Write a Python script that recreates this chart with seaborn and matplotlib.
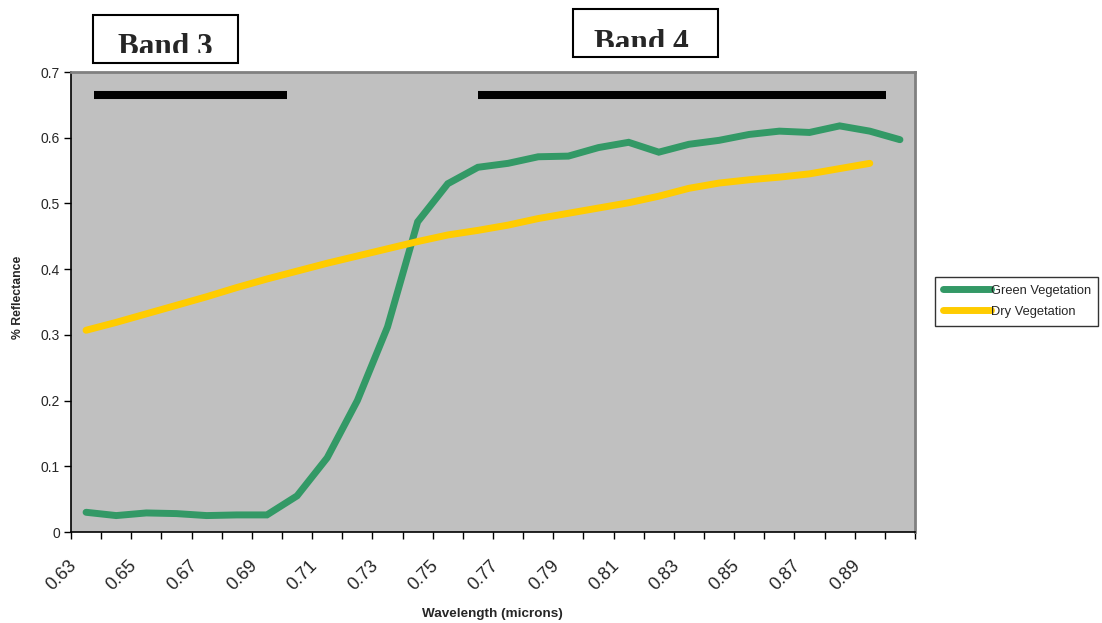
import numpy as np
import pandas as pd
import matplotlib
matplotlib.use("Agg")
import matplotlib.pyplot as plt
import matplotlib.patches as mpatches
import matplotlib.transforms as mtransforms
import seaborn as sns

# wavelength categories (microns)
wavelengths = [0.63, 0.64, 0.65, 0.66, 0.67, 0.68, 0.69, 0.70, 0.71, 0.72,
               0.73, 0.74, 0.75, 0.76, 0.77, 0.78, 0.79, 0.80, 0.81, 0.82,
               0.83, 0.84, 0.85, 0.86, 0.87, 0.88, 0.89, 0.90]

green_veg = [0.030, 0.025, 0.029, 0.028, 0.025, 0.026, 0.026, 0.055, 0.113, 0.200,
             0.312, 0.472, 0.530, 0.555, 0.561, 0.571, 0.572, 0.585, 0.593, 0.578,
             0.590, 0.596, 0.605, 0.610, 0.608, 0.618, 0.610, 0.597]

dry_veg = [0.307, 0.319, 0.332, 0.345, 0.358, 0.372, 0.385, 0.397, 0.409, 0.420,
           0.431, 0.442, 0.452, 0.459, 0.467, 0.477, 0.485, 0.493, 0.501, 0.511,
           0.523, 0.531, 0.536, 0.540, 0.545, 0.553, 0.561, np.nan]

series_names = ["Green Vegetation", "Dry Vegetation"]
series_colors = ["#339966", "#FFCC00"]

# band spans drawn as black bars above the curves (in wavelength units)
band_labels = ["Band 3", "Band 4"]
band_spans = [(0.6327, 0.6966), (0.7600, 0.8955)]
band_bar_level = 0.665

y_ticks = [0, 0.1, 0.2, 0.3, 0.4, 0.5, 0.6, 0.7]
y_tick_labels = ["0", "0.1", "0.2", "0.3", "0.4", "0.5", "0.6", "0.7"]

sns.set_style("white")
plt.rcParams['font.family'] = ['Liberation Sans', 'DejaVu Sans']


def wl_to_pos(w):
    return (w - wavelengths[0]) / 0.01


idx = np.arange(len(wavelengths))
df = pd.DataFrame({
    "pos": np.concatenate([idx, idx]),
    "value": np.concatenate([green_veg, dry_veg]),
    "series": [series_names[0]] * len(idx) + [series_names[1]] * len(idx),
}).dropna()

W, H = 1102, 623
fig = plt.figure(figsize=(W / 100, H / 100), dpi=100)
ax = fig.add_axes([71 / W, 1 - 532 / H, (915 - 71) / W, (532 - 72) / H])
ax.set_facecolor("#C0C0C0")

sns.lineplot(data=df, x="pos", y="value", hue="series", palette=series_colors,
             hue_order=series_names, linewidth=5, ax=ax, legend=False,
             solid_capstyle="round", solid_joinstyle="miter")

# band bars
for (w0, w1) in band_spans:
    ax.hlines(band_bar_level, wl_to_pos(w0), wl_to_pos(w1), color="black",
              linewidth=5.8)

ax.set_xlim(-0.5, len(wavelengths) - 0.5)
ax.set_ylim(0, 0.7)

# x axis: tick marks at category boundaries, labels at every other category
ax.set_xticks(np.arange(-0.5, len(wavelengths)))
ax.set_xticklabels([])
ax.set_xticks(idx[::2], minor=True)
ax.set_xticklabels([f"{w:.2f}" for w in wavelengths[::2]], minor=True,
                   rotation=45, ha="right", va="center", rotation_mode="anchor",
                   fontsize=13)
ax.tick_params(axis="x", which="minor", length=0, pad=16)
ax.tick_params(axis="x", which="major", length=5, width=1, color="black",
               direction="out", bottom=True)
shift = mtransforms.ScaledTranslation(-12 / 100, -9 / 100, fig.dpi_scale_trans)
for lab in ax.get_xticklabels(minor=True):
    lab.set_transform(lab.get_transform() + shift)

ax.set_yticks(y_ticks)
ax.set_yticklabels(y_tick_labels, fontsize=10)
ax.tick_params(axis="y", length=5, width=1, color="black", direction="out",
               left=True, pad=3)

for side in ["top", "right"]:
    ax.spines[side].set_visible(True)
    ax.spines[side].set_color("#808080")
    ax.spines[side].set_linewidth(2)
for side in ["left", "bottom"]:
    ax.spines[side].set_color("black")
    ax.spines[side].set_linewidth(1.2)

ax.set_xlabel("Wavelength (microns)", fontsize=9.7, fontweight="bold", va="center")
ax.set_ylabel("% Reflectance", fontsize=8.8, fontweight="bold", va="center")
ax.xaxis.set_label_coords((492 - 71) / (915 - 71), -(614 - 532) / (532 - 72))
ax.yaxis.set_label_coords(-(71 - 17.5) / (915 - 71), (532 - 297.5) / (532 - 72))

# legend
handles = [plt.Line2D([], [], color=c, linewidth=5, solid_capstyle="round")
           for c in series_colors]
leg = fig.legend(handles, series_names, loc="upper left",
                 bbox_to_anchor=(935 / W, 1 - 277 / H), frameon=True,
                 fancybox=False, edgecolor="black", fontsize=9.3,
                 handlelength=3.7, handletextpad=0.0, borderpad=0.6,
                 labelspacing=0.7, borderaxespad=0)
leg.get_frame().set_linewidth(1)

# band title boxes (text clipped by the box like the original)
boxes = [(93, 15, 238, 63, 165.5, 55, 53), (573, 9, 718, 57, 641.5, 51, 47)]
for label, (x0, y0, x1, y1, tx, tb, clip_y) in zip(band_labels, boxes):
    rect = mpatches.Rectangle((x0 / W, 1 - y1 / H), (x1 - x0) / W, (y1 - y0) / H,
                              transform=fig.transFigure, facecolor="white",
                              edgecolor="black", linewidth=1.5)
    fig.patches.append(rect)
    t = fig.text(tx / W, 1 - tb / H, label, ha="center", va="baseline",
                 fontsize=22.5, fontweight="bold",
                 family=["Liberation Serif", "DejaVu Serif"])
    clip = mpatches.Rectangle((x0 / W, 1 - clip_y / H), (x1 - x0) / W,
                              (clip_y - y0) / H, transform=fig.transFigure)
    t.set_clip_path(clip)

fig.savefig("out.png", dpi=100)
